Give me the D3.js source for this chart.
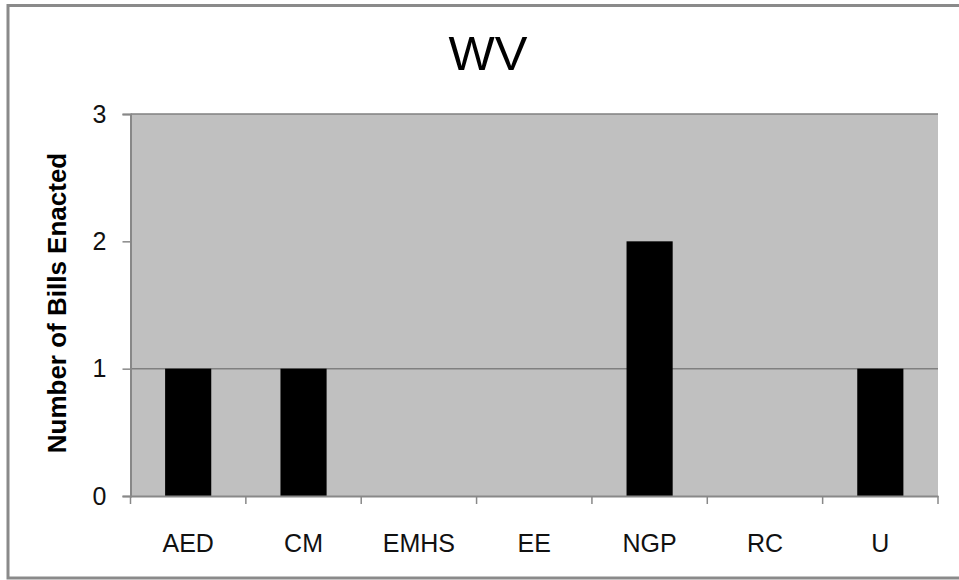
<!DOCTYPE html>
<html><head><meta charset="utf-8">
<script src="https://cdn.jsdelivr.net/npm/d3@7"></script>
<style>body{margin:0;background:#fff}svg{display:block}</style>
</head><body>
<script>
const categories = ["AED","CM","EMHS","EE","NGP","RC","U"];
const values = [1,1,0,0,2,0,1];
const yTicks = [0,1,2,3];
const gridValues = [1,3];
const title = "WV";
const yLabel = "Number of Bills Enacted";

const W = 959, H = 580;
const m = {left:130.5, right:W-938, top:114, bottom:H-496};
const svg = d3.select("body").append("svg").attr("width",W).attr("height",H);

// outer frame
svg.append("rect").attr("x",8).attr("y",5.5).attr("width",W+10).attr("height",572.5)
  .attr("fill","#fff").attr("stroke","#8a8a8a").attr("stroke-width",3);

const x = d3.scaleBand().domain(categories).range([m.left, W-m.right]).paddingInner(0.6).paddingOuter(0.3);
const xb = d3.scaleBand().domain(categories).range([m.left, W-m.right]);
const y = d3.scaleLinear().domain([0,3]).range([H-m.bottom, m.top]);

svg.append("rect").attr("x",m.left).attr("y",m.top).attr("width",W-m.right-m.left)
  .attr("height",H-m.bottom-m.top).attr("fill","#c0c0c0");

svg.selectAll(".grid").data(gridValues).join("line")
  .attr("x1",m.left).attr("x2",W-m.right).attr("y1",d=>y(d)).attr("y2",d=>y(d))
  .attr("stroke","#808080").attr("stroke-width",1.5);

svg.selectAll(".bar").data(categories).join("rect")
  .attr("x",d=>x(d)).attr("width",x.bandwidth())
  .attr("y",(d,i)=>y(values[i])).attr("height",(d,i)=>y(0)-y(values[i]))
  .attr("fill","#000");

// y axis
const ya = svg.append("g").attr("transform",`translate(${m.left},0)`)
  .call(d3.axisLeft(y).tickValues(yTicks).tickFormat(d3.format("d")).tickSize(8).tickPadding(16));
ya.select(".domain").attr("stroke","#888").attr("stroke-width",2);
ya.selectAll(".tick line").attr("stroke","#888").attr("stroke-width",1.5);
ya.selectAll("text").attr("font-family","Arial, 'Liberation Sans', sans-serif").attr("font-size",25).attr("fill","#111");

// x axis
const xa = svg.append("g").attr("transform",`translate(0,${H-m.bottom})`)
  .call(d3.axisBottom(xb).tickSize(0).tickPadding(38));
xa.select(".domain").attr("stroke","#888").attr("stroke-width",2);
xa.selectAll("text").attr("font-family","Arial, 'Liberation Sans', sans-serif").attr("font-size",25).attr("fill","#111");
// tick marks at band boundaries
const bounds = categories.map(c=>xb(c)).concat([W-m.right]);
svg.selectAll(".xt").data(bounds).join("line")
  .attr("x1",d=>d).attr("x2",d=>d).attr("y1",H-m.bottom).attr("y2",H-m.bottom+8)
  .attr("stroke","#888").attr("stroke-width",1.5);

svg.append("text").attr("x",488).attr("y",70).attr("text-anchor","middle")
  .attr("font-family","Arial, 'Liberation Sans', sans-serif").attr("font-size",49).attr("fill","#000").text(title);

svg.append("text").attr("transform","translate(66,303) rotate(-90)").attr("text-anchor","middle")
  .attr("font-family","Arial, 'Liberation Sans', sans-serif").attr("font-weight","bold").attr("font-size",26)
  .attr("fill","#000").text(yLabel);
</script>
</body></html>
